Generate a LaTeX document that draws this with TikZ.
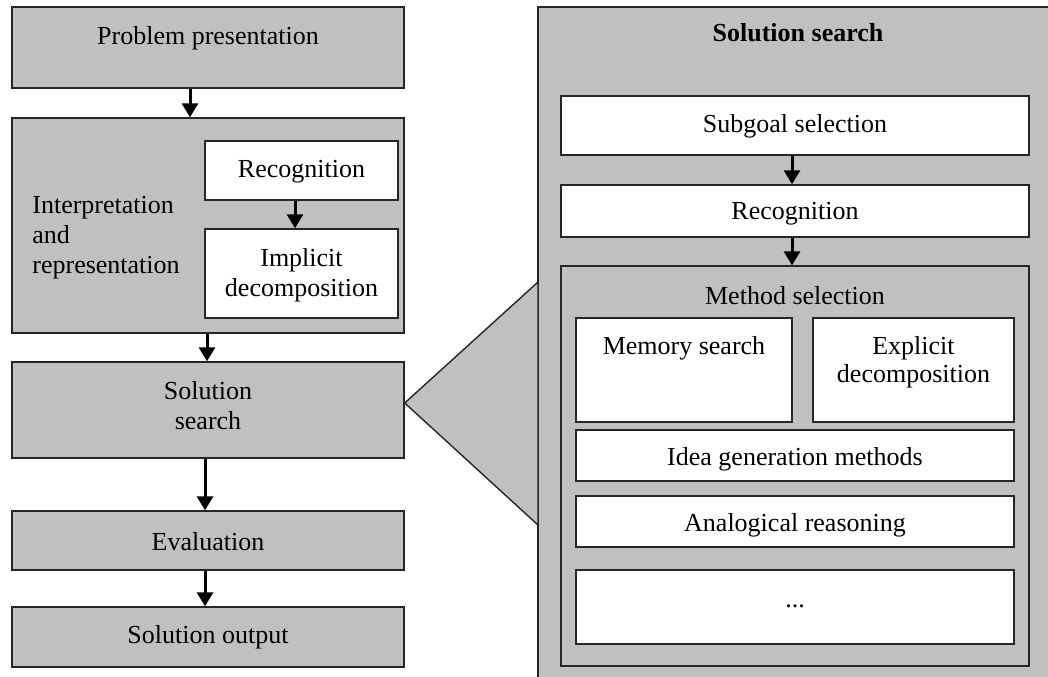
\documentclass[tikz,border=0pt]{standalone}
\usepackage{fontspec}
\setmainfont{Liberation Serif}
\usetikzlibrary{positioning}
\usetikzlibrary{arrows.meta}
\definecolor{boxgrey}{RGB}{192,192,192}
\tikzset{
  greybox/.style={draw=black!85, fill=boxgrey, line width=0.7pt, inner sep=0pt},
  whitebox/.style={greybox, fill=white},
  flow/.style={-{Triangle[length=7pt,width=8pt]}, line width=1.5pt},
  lbl/.style={align=center, inner sep=0pt, yshift=-1.5pt, font=\fontsize{13}{15}\selectfont},
}

\begin{document}
\begin{tikzpicture}[x=0.5pt,y=-0.5pt]
    \useasboundingbox (0,0) rectangle (1048,676);

    % left column
    \node[greybox, minimum width=196pt, minimum height=40.5pt] (prob) at (208,47.5) {};
    \node[greybox, minimum width=196pt, minimum height=107.5pt] (interp) at (208,225.5) {};
    \node[whitebox, minimum width=96.5pt, minimum height=29.5pt] (recogA) at (301.5,170.5) {};
    \node[whitebox, minimum width=96.5pt, minimum height=44.5pt] (implicit) at (301.5,273.5) {};
    \node[greybox, minimum width=196pt, minimum height=48pt] (search) at (208,410) {};
    \node[greybox, minimum width=196pt, minimum height=29.5pt] (eval) at (208,540.5) {};
    \node[greybox, minimum width=196pt, minimum height=30pt] (output) at (208,637) {};

    \node[lbl] (probtxt) at (208,35) {Problem presentation};
    \node[lbl, align=left, anchor=west] (interptxt) at (32,235) {Interpretation\\and\\representation};
    \node[lbl] (recogAtxt) at (301.5,169) {Recognition};
    \node[lbl] (implicittxt) at (301.5,272) {Implicit\\decomposition};
    \node[lbl] (searchtxt) at (208,403) {Solution\\search};
    \node[lbl] (evaltxt) at (208,539) {Evaluation};
    \node[lbl] (outputtxt) at (208,634) {Solution output};

    \draw[flow] ([xshift=-9pt]prob.south) -- ([xshift=-9pt]interp.north);
    \draw[flow] ([xshift=-3.25pt]recogA.south) -- ([xshift=-3.25pt]implicit.north);
    \draw[flow] ([xshift=-0.5pt]interp.south) -- ([xshift=-0.5pt]search.north);
    \draw[flow] ([xshift=-1.5pt]search.south) -- ([xshift=-1.5pt]eval.north);
    \draw[flow] ([xshift=-1.5pt]eval.south) -- ([xshift=-1.5pt]output.north);

    % right panel
    \node[greybox, minimum width=276pt, minimum height=340pt] (panel) at (814,347) {};
    \node[lbl, font=\fontsize{13}{15}\selectfont\bfseries] (paneltxt) at (798,30) {Solution search};

    \coordinate (zoomtop) at (538,282);
    \coordinate (zoombot) at (538,525);
    \filldraw[greybox] ([yshift=3.5pt]search.east) -- (zoomtop) -- (zoombot) -- cycle;

    \node[whitebox, minimum width=234pt, minimum height=29.5pt] (subgoal) at (795,125.5) {};
    \node[whitebox, minimum width=234pt, minimum height=26pt] (recogB) at (795,211) {};
    \node[greybox, minimum width=234pt, minimum height=200pt] (method) at (795,466) {};
    \node[whitebox, minimum width=108pt, minimum height=52pt] (memory) at (684,370) {};
    \node[whitebox, minimum width=100.5pt, minimum height=52pt] (explicit) at (913.5,370) {};
    \node[whitebox, minimum width=219pt, minimum height=25.5pt] (idea) at (795,455.5) {};
    \node[whitebox, minimum width=219pt, minimum height=25.5pt] (analog) at (795,521.5) {};
    \node[whitebox, minimum width=219pt, minimum height=37pt] (more) at (795,607) {};

    \node[lbl] (subgoaltxt) at (795,123) {Subgoal selection};
    \node[lbl] (recogBtxt) at (795,211) {Recognition};
    \node[lbl] (methodtxt) at (795,293) {Method selection};
    \node[lbl] (memorytxt) at (684,345) {Memory search};
    \node[lbl] (explicittxt) at (913.5,359) {Explicit\\[-1pt]decomposition};
    \node[lbl] (ideatxt) at (795,456) {Idea generation methods};
    \node[lbl] (analogtxt) at (795,522) {Analogical reasoning};
    \node[lbl] (moretxt) at (795,603) {...};

    \draw[flow] ([xshift=-1.5pt]subgoal.south) -- ([xshift=-1.5pt]recogB.north);
    \draw[flow] ([xshift=-1.5pt]recogB.south) -- ([xshift=-1.5pt]method.north);
\end{tikzpicture}
\end{document}
